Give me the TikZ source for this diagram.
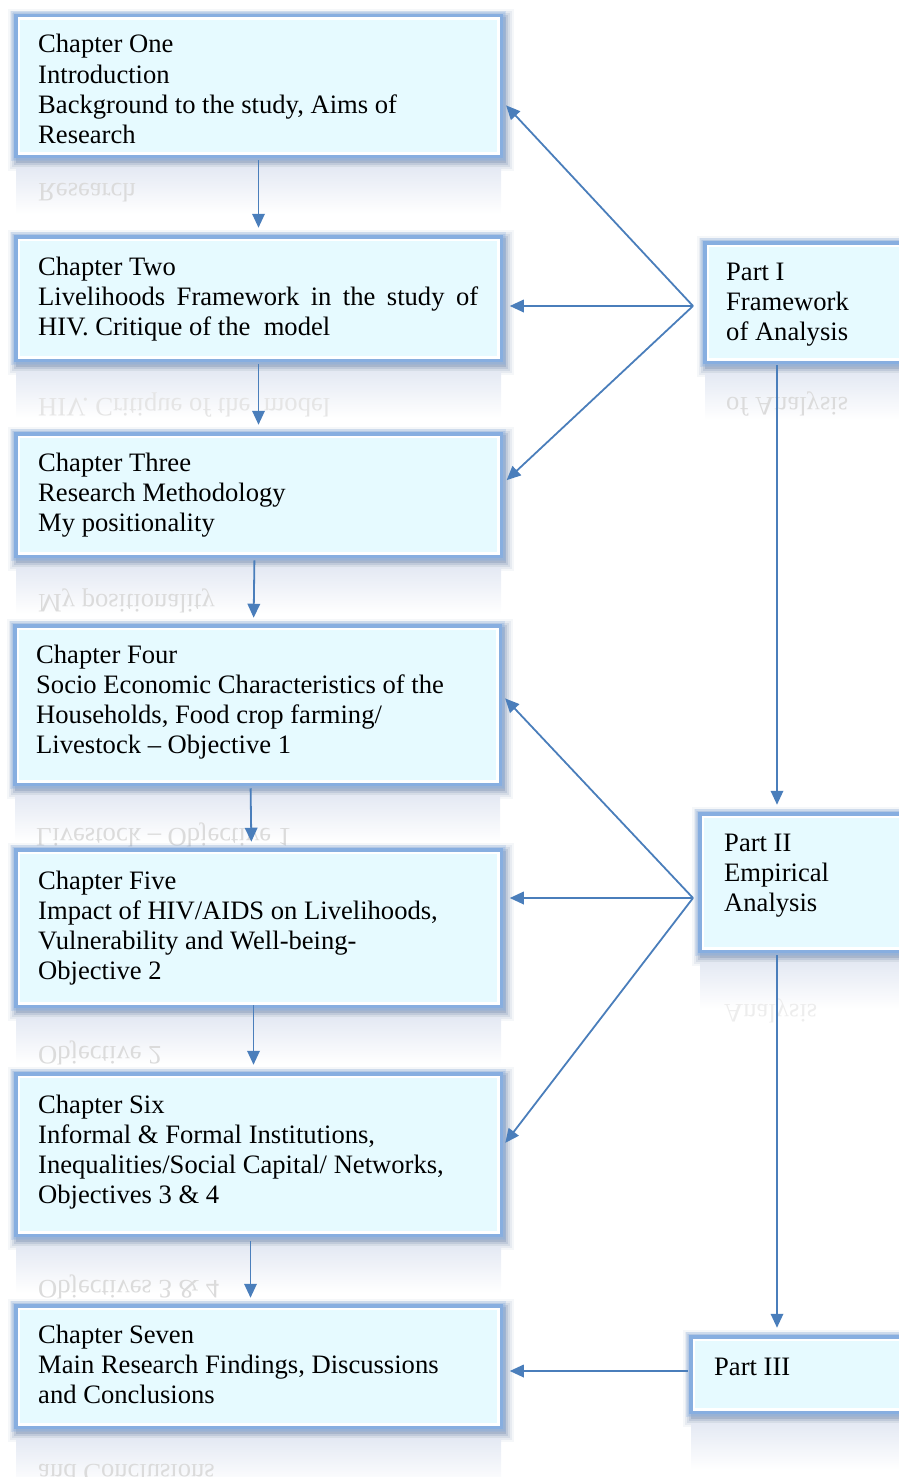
\documentclass[tikz,border=0pt]{standalone}
\usepackage{fontspec}
\setmainfont{Liberation Serif}
\usetikzlibrary{arrows.meta}

\definecolor{panelfill}{RGB}{230,250,255}
\definecolor{panelrim}{RGB}{135,174,224}
\definecolor{panelshade}{RGB}{60,92,140}
\definecolor{mirrorband}{RGB}{228,233,243}
\definecolor{linkblue}{RGB}{74,126,187}

\tikzset{
  panelbox/.style={fill=panelfill, draw=white, line width=2.5pt, outer sep=0pt,
    inner sep=0pt, preaction={draw=panelrim, line width=9.5pt}},
  txt/.style={inner sep=0pt, anchor=base west, text=black,
    font=\fontsize{26.6}{30.3}\selectfont},
  mirror/.style={txt, text=black!14, yscale=-1},
  link/.style={draw=linkblue, line width=1.8pt,
    -{Triangle[length=14pt,width=12.5pt]}},
}

% panel: name, left, top, right, bottom (outer edge, y grows downwards)
\newcommand\panel[5]{%
  \foreach \r/\o in {8/0.05,6/0.08,4/0.10,2/0.14,0/0.18}{
    \fill[panelshade,opacity=\o] (#2+2-\r,#3+3-\r) rectangle (#4+3+\r,#5+5+\r);}
  \foreach \r in {3,1.5}{
    \fill[panelrim,opacity=0.25] (#2-\r,#3-\r) rectangle (#4+\r,#5+\r);}
  \shade[top color=mirrorband,bottom color=white] (#2+2,#5+9) rectangle (#4-2,#5+56);
  \node[panelbox, minimum width=#4-#2-9.5, minimum height=#5-#3-9.5,
        anchor=north west] (#1) at (#2+4.75,#3+4.75) {};
}

\begin{document}
\begin{tikzpicture}[x=1pt,y=-1pt]
\useasboundingbox (0,0) rectangle (898,1477);

% chapter column
\panel{c1}{14}{14}{503}{158}
\node[mirror] (m1) at (38,183) {Research};
\panel{c2}{14}{235}{503}{362}
\node[mirror, text=black!10] (m2) at (38,398) {HIV. Critique of the \ model};
\panel{c3}{14}{432}{503}{558}
\node[mirror] (m3) at (38,594) {My positionality};
\panel{c4}{13}{624}{502}{786}
\node[mirror] (m4) at (36,828) {Livestock – Objective 1};
\panel{c5}{14}{848}{503}{1008}
\node[mirror] (m5) at (38,1046) {Objective 2};
\panel{c6}{14}{1072}{503}{1237}
\node[mirror] (m6) at (38,1280) {Objectives 3 \& 4};
\panel{c7}{14}{1304}{503}{1429}
\node[mirror] (m7) at (38,1464) {and Conclusions};

% part column
\panel{p1}{703}{241}{915}{364}
\node[mirror] (n1) at (726,397) {of Analysis};
\panel{p2}{698}{812}{915}{953}
\node[mirror, text=black!7] (n2) at (724,1004) {Analysis};
\panel{p3}{689}{1335}{915}{1414}

% texts
\node[txt] (t1) at (38,53) {\parbox[t]{470pt}{\raggedright Chapter One\\Introduction\\Background to the study, Aims of\\Research}};
\node[txt] (t2) at (38,275) {\parbox[t]{470pt}{\raggedright Chapter Two\\\makebox[440pt][s]{Livelihoods Framework in the study of}\\HIV. Critique of the \ model}};
\node[txt] (t3) at (38,471) {\parbox[t]{470pt}{\raggedright Chapter Three\\Research Methodology\\My positionality}};
\node[txt] (t4) at (36,663) {\parbox[t]{470pt}{\raggedright Chapter Four\\Socio Economic Characteristics of the\\Households, Food crop farming/\\Livestock – Objective 1}};
\node[txt] (t5) at (38,889) {\parbox[t]{470pt}{\raggedright Chapter Five\\Impact of HIV/AIDS on Livelihoods,\\Vulnerability and Well-being-\\Objective 2}};
\node[txt] (t6) at (38,1113) {\parbox[t]{470pt}{\raggedright Chapter Six\\Informal \& Formal Institutions,\\Inequalities/Social Capital/ Networks,\\Objectives 3 \& 4}};
\node[txt] (t7) at (38,1343) {\parbox[t]{470pt}{\raggedright Chapter Seven\\Main Research Findings, Discussions\\and Conclusions}};
\node[txt] (q1) at (726,280) {\parbox[t]{170pt}{\raggedright Part I\\Framework\\of Analysis}};
\node[txt] (q2) at (724,851) {\parbox[t]{170pt}{\raggedright Part II\\Empirical\\Analysis}};
\node[txt] (q3) at (714,1375) {Part III};

% chapter sequence
\draw[link, shorten <=7pt, shorten >=12pt] (c1.south) -- (c2.north);
\draw[link, shorten <=7pt, shorten >=12pt] (c2.south) -- (c3.north);
\draw[link, shorten <=7pt, shorten >=11pt] ([xshift=-4pt]c3.south) -- ([xshift=-4pt]c4.north);
\draw[link, shorten <=7pt, shorten >=11pt] ([xshift=-7pt]c4.south) -- ([xshift=-7pt]c5.north);
\draw[link, shorten <=2pt, shorten >=12pt] ([xshift=-5pt]c5.south) -- ([xshift=-5pt]c6.north);
\draw[link, shorten <=9pt, shorten >=11pt] ([xshift=-8pt]c6.south) -- ([xshift=-8pt]c7.north);

% part I fan
\coordinate (hub1) at (693,306);
\draw[link, shorten >=11.5pt] (hub1) -- ([yshift=-11pt]c1.east);
\draw[link, shorten >=11.5pt] (hub1) -- (hub1 -| c2.east);
\draw[link, shorten >=11.5pt] (hub1) -- ([yshift=7pt]c3.east);

% part II fan
\coordinate (hub2) at (693,898);
\draw[link, shorten >=11.5pt] (hub2) -- ([yshift=15pt]c4.east);
\draw[link, shorten >=11.5pt] (hub2) -- (hub2 -| c5.east);
\draw[link, shorten >=11.5pt] (hub2) -- ([yshift=2.5pt]c6.east);

% part sequence
\coordinate (colx) at (777,0);
\draw[link, shorten <=6pt, shorten >=12pt] (colx |- p1.south) -- (colx |- p2.north);
\draw[link, shorten <=7pt, shorten >=12pt] (colx |- p2.south) -- (colx |- p3.north);

% part III to chapter seven
\coordinate (row7) at (0,1371);
\draw[link, shorten <=6pt, shorten >=11.5pt] (row7 -| p3.west) -- (row7 -| c7.east);

\end{tikzpicture}
\end{document}
